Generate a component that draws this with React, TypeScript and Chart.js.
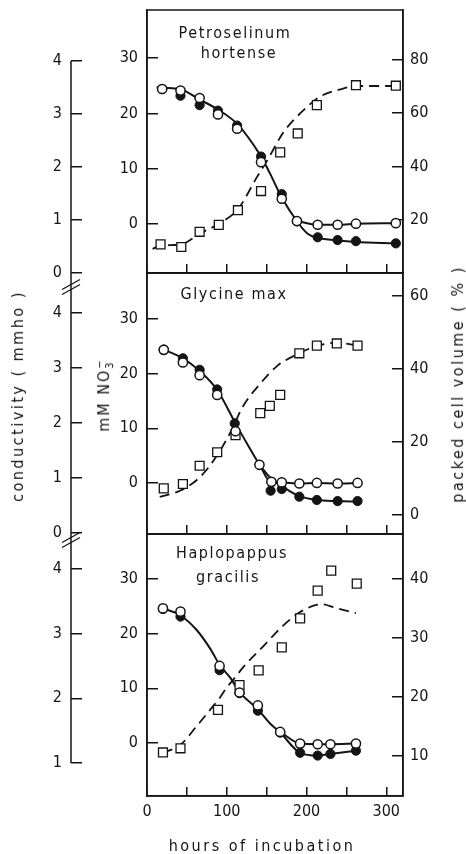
import React, { useEffect, useRef } from 'react';
import { Chart, registerables } from 'chart.js';

Chart.register(...registerables);

const INK = '#141414';
const FONT = '"DejaVu Sans Condensed", "DejaVu Sans", sans-serif';

// ---------------- data ----------------
// x axis: hours of incubation
const xTickLabelValues = [0, 100, 200, 300];

// Panel 1: Petroselinum hortense
const p1Hours = [19, 42, 66, 89, 113, 143, 169, 188, 214, 239, 262, 312];
const p1Nitrate = [24.4, 23.2, 21.5, 20.5, 17.8, 12.2, 5.4, 0.5, -2.4, -2.9, -3.1, -3.5];
const p1Conductivity = [3.47, 3.44, 3.3, 2.99, 2.72, 2.09, 1.4, 0.98, 0.91, 0.91, 0.93, 0.94];
const p1PcvHours = [17, 43, 66, 90, 114, 143, 167, 189, 213, 262, 312];
const p1Pcv = [10.8, 9.8, 15.5, 18.1, 23.6, 30.8, 45.3, 52.4, 63.0, 70.5, 70.3];
const p1NitrateCurveHours = [12, 41, 66, 89, 113, 143, 154, 169, 188, 201, 214, 240, 262, 312];
const p1NitrateCurve = [24.7, 24.4, 22.5, 20.7, 18.1, 12.2, 9.2, 4.8, 0.5, -1.7, -2.5, -3.0, -3.25, -3.5];
const p1CondCurveHours = [188, 214, 240, 262, 312];
const p1CondCurve = [0.98, 0.91, 0.91, 0.93, 0.94];
const p1PcvCurveHours = [7, 17, 43, 66, 90, 114, 138, 151, 171, 192, 217, 242, 263, 313];
const p1PcvCurve = [9.1, 10.3, 10.8, 14.8, 18.5, 24.0, 36.1, 42.4, 52.8, 59.9, 66.2, 68.9, 70.2, 70.2];

// Panel 2: Glycine max
const p2CondHours = [21, 45, 66, 88, 111, 141, 156, 169, 191, 213, 239, 264];
const p2Conductivity = [3.33, 3.1, 2.87, 2.51, 1.85, 1.24, 0.93, 0.92, 0.9, 0.91, 0.9, 0.91];
const p2NitrateHours = [21, 45, 66, 88, 110, 155, 169, 191, 213, 239, 264];
const p2Nitrate = [24.4, 22.8, 20.7, 17.1, 10.9, -1.4, -1.1, -2.5, -3.1, -3.3, -3.3];
const p2PcvHours = [21, 45, 66, 88, 111, 142, 154, 167, 191, 213, 238, 264];
const p2Pcv = [7.3, 8.5, 13.5, 17.2, 21.9, 27.9, 29.9, 32.9, 44.3, 46.4, 47.0, 46.4];
const p2NitrateCurveHours = [19, 45, 66, 88, 111, 125, 141, 155, 169, 191, 213, 239, 264];
const p2NitrateCurve = [24.5, 22.8, 20.5, 17.0, 10.9, 7.3, 3.4, 0.9, -0.55, -2.4, -3.1, -3.3, -3.4];
const p2CondCurveHours = [141, 155, 169, 191, 213, 239, 264];
const p2CondCurve = [1.24, 0.93, 0.92, 0.9, 0.91, 0.9, 0.91];
const p2PcvCurveHours = [16, 42, 67, 88, 104, 121, 142, 163, 188, 213, 238, 264];
const p2PcvCurve = [5.0, 6.7, 10.5, 16.4, 22.4, 30.0, 36.0, 40.8, 44.0, 46.3, 47.2, 46.4];

// Panel 3: Haplopappus gracilis
const p3Hours = [20, 42, 91, 116, 139, 167, 192, 214, 230, 262];
const p3Nitrate = [24.5, 23.1, 13.3, 9.1, 5.9, 1.9, -1.8, -2.3, -2.0, -1.4];
const p3Conductivity = [3.39, 3.34, 2.5, 2.09, 1.89, 1.48, 1.3, 1.29, 1.29, 1.3];
const p3PcvHours = [20, 42, 89, 116, 140, 169, 192, 214, 231, 263];
const p3Pcv = [10.6, 11.3, 17.8, 22.0, 24.5, 28.4, 33.3, 38.0, 41.4, 39.2];
const p3NitrateCurveHours = [20, 41, 62, 79, 91, 105, 116, 138, 154, 167, 192, 214, 230, 262];
const p3NitrateCurve = [24.6, 23.4, 20.7, 17.3, 14.3, 11.8, 9.3, 6.3, 3.6, 1.9, -1.8, -2.3, -2.0, -1.4];
const p3CondCurveHours = [167, 192, 214, 230, 262];
const p3CondCurve = [1.48, 1.3, 1.29, 1.29, 1.3];
const p3PcvCurveHours = [20, 42, 62, 79, 92, 100, 108, 123, 146, 170, 190, 210, 220, 236, 262];
const p3PcvCurve = [10.5, 11.9, 15.0, 17.8, 20.0, 21.6, 22.9, 25.4, 28.6, 32.0, 34.2, 35.5, 35.7, 35.1, 34.2];

// ---------------- helpers ----------------
const pts = (xs: number[], ys: number[]) => xs.map((x, i) => ({ x, y: ys[i] }));

type Series = {
  condHours: number[]; cond: number[];
  nitrateHours: number[]; nitrate: number[];
  pcvHours: number[]; pcv: number[];
  nitrateCurveHours: number[]; nitrateCurve: number[];
  condCurveHours: number[]; condCurve: number[];
  pcvCurveHours: number[]; pcvCurve: number[];
};

type PanelSpec = {
  key: string;
  canvasTop: number;
  canvasHeight: number;
  xAxisHeight: number;
  showXLabels: boolean;
  nitrateRange: [number, number];
  condRange: [number, number];
  pcvRange: [number, number];
  pcvStep: number;
  condLineFrom?: number;
  condLineTo?: number;
  breakOffset?: number;
  series: Series;
};

const panels: PanelSpec[] = [
  {
    key: 'petroselinum',
    canvasTop: 0, canvasHeight: 283, xAxisHeight: 10, showXLabels: false,
    nitrateRange: [-8.86, 38.7], condRange: [0, 4.96], pcvRange: [0.05, 98.7], pcvStep: 20,
    condLineFrom: 4,
    series: {
      condHours: p1Hours, cond: p1Conductivity,
      nitrateHours: p1Hours, nitrate: p1Nitrate,
      pcvHours: p1PcvHours, pcv: p1Pcv,
      nitrateCurveHours: p1NitrateCurveHours, nitrateCurve: p1NitrateCurve,
      condCurveHours: p1CondCurveHours, condCurve: p1CondCurve,
      pcvCurveHours: p1PcvCurveHours, pcvCurve: p1PcvCurve,
    },
  },
  {
    key: 'glycine',
    canvasTop: 263, canvasHeight: 281, xAxisHeight: 10, showXLabels: false,
    nitrateRange: [-9.32, 38.39], condRange: [-0.018, 4.727], pcvRange: [-5.2, 66.3], pcvStep: 20,
    breakOffset: 14,
    series: {
      condHours: p2CondHours, cond: p2Conductivity,
      nitrateHours: p2NitrateHours, nitrate: p2Nitrate,
      pcvHours: p2PcvHours, pcv: p2Pcv,
      nitrateCurveHours: p2NitrateCurveHours, nitrateCurve: p2NitrateCurve,
      condCurveHours: p2CondCurveHours, condCurve: p2CondCurve,
      pcvCurveHours: p2PcvCurveHours, pcvCurve: p2PcvCurve,
    },
  },
  {
    key: 'haplopappus',
    canvasTop: 524, canvasHeight: 330, xAxisHeight: 58, showXLabels: true,
    nitrateRange: [-9.69, 38.2], condRange: [0.49, 4.54], pcvRange: [3.22, 47.6], pcvStep: 10,
    condLineTo: 1,
    breakOffset: 6,
    series: {
      condHours: p3Hours, cond: p3Conductivity,
      nitrateHours: p3Hours, nitrate: p3Nitrate,
      pcvHours: p3PcvHours, pcv: p3Pcv,
      nitrateCurveHours: p3NitrateCurveHours, nitrateCurve: p3NitrateCurve,
      condCurveHours: p3CondCurveHours, condCurve: p3CondCurve,
      pcvCurveHours: p3PcvCurveHours, pcvCurve: p3PcvCurve,
    },
  },
];

const panelDecor = {
  id: 'panelDecor',
  afterDraw(chart: any, _args: any, opts: any) {
    const { ctx, chartArea } = chart;
    const cond = chart.scales.cond;
    ctx.save();
    ctx.strokeStyle = INK;
    ctx.lineWidth = 1.5;
    ctx.strokeRect(chartArea.left, chartArea.top, chartArea.right - chartArea.left, chartArea.bottom - chartArea.top);
    // conductivity axis line
    const x = Math.round(cond.right);
    const y0 = opts.condLineFrom != null ? cond.getPixelForValue(opts.condLineFrom) : chartArea.top;
    const y1 = opts.condLineTo != null ? cond.getPixelForValue(opts.condLineTo) : chartArea.bottom;
    ctx.beginPath();
    ctx.moveTo(x, y0);
    ctx.lineTo(x, y1);
    ctx.stroke();
    // axis break marks
    if (opts.breakOffset != null) {
      const yc = chartArea.top + opts.breakOffset;
      ctx.lineWidth = 1.3;
      for (const dy of [-2.5, 2.5]) {
        ctx.beginPath();
        ctx.moveTo(x - 9, yc + dy + 5);
        ctx.lineTo(x + 9, yc + dy - 5);
        ctx.stroke();
      }
    }
    ctx.restore();
  },
};

const tickFont = { family: FONT, size: 16 };

const noPad = (sc: any) => {
  sc.paddingTop = 0;
  sc.paddingBottom = 0;
  sc.paddingLeft = 0;
  sc.paddingRight = 0;
};

function buildConfig(p: PanelSpec): any {
  const s = p.series;
  const marker = { showLine: false, borderWidth: 0 };
  const curve = { showLine: true, pointRadius: 0, borderColor: INK, cubicInterpolationMode: 'monotone', fill: false };
  return {
    type: 'scatter',
    data: {
      datasets: [
        { ...marker, label: 'conductivity', data: pts(s.condHours, s.cond), yAxisID: 'cond', pointStyle: 'circle', pointRadius: 4.6, pointBackgroundColor: '#ffffff', pointBorderColor: INK, pointBorderWidth: 1.5 },
        { ...marker, label: 'NO3', data: pts(s.nitrateHours, s.nitrate), yAxisID: 'mm', pointStyle: 'circle', pointRadius: 4.6, pointBackgroundColor: INK, pointBorderColor: INK, pointBorderWidth: 1 },
        { ...marker, label: 'packed cell volume', data: pts(s.pcvHours, s.pcv), yAxisID: 'pcv', pointStyle: 'rect', pointRadius: 6.3, pointBackgroundColor: '#ffffff', pointBorderColor: INK, pointBorderWidth: 1.3 },
        { ...curve, label: 'NO3 curve', data: pts(s.nitrateCurveHours, s.nitrateCurve), yAxisID: 'mm', borderWidth: 2 },
        { ...curve, label: 'conductivity curve', data: pts(s.condCurveHours, s.condCurve), yAxisID: 'cond', borderWidth: 2 },
        { ...curve, label: 'pcv curve', data: pts(s.pcvCurveHours, s.pcvCurve), yAxisID: 'pcv', borderWidth: 1.8, borderDash: [10, 6] },
      ],
    },
    options: {
      responsive: false,
      animation: false,
      events: [],
      layout: { padding: { top: 10, left: 0, right: 0, bottom: 0 } },
      plugins: {
        legend: { display: false },
        tooltip: { enabled: false },
        panelDecor: { condLineFrom: p.condLineFrom, condLineTo: p.condLineTo, breakOffset: p.breakOffset },
      },
      scales: {
        x: {
          type: 'linear', position: 'bottom', min: 0, max: 321,
          ticks: {
            stepSize: 50, includeBounds: false, autoSkip: false, maxRotation: 0, padding: 15, color: INK, font: tickFont,
            callback: (v: number) => (p.showXLabels && xTickLabelValues.includes(v) ? String(v) : ''),
          },
          grid: { drawOnChartArea: false, color: INK, lineWidth: 1.5, tickLength: -9 },
          border: { display: true, color: INK, width: 1.5 },
          afterFit: (sc: any) => { sc.height = p.xAxisHeight; noPad(sc); },
        },
        cond: {
          type: 'linear', position: 'left', weight: 1, min: p.condRange[0], max: p.condRange[1],
          ticks: { stepSize: 1, includeBounds: false, autoSkip: false, padding: 20, color: INK, font: tickFont, callback: (v: number) => String(v) },
          grid: { drawOnChartArea: false, color: INK, lineWidth: 1.5, tickLength: -11 },
          border: { display: false },
          afterFit: (sc: any) => { sc.width = 71; noPad(sc); },
        },
        mm: {
          type: 'linear', position: 'left', weight: 0, min: p.nitrateRange[0], max: p.nitrateRange[1],
          ticks: { stepSize: 10, includeBounds: false, autoSkip: false, padding: 20, color: INK, font: tickFont, callback: (v: number) => String(v) },
          grid: { drawOnChartArea: false, color: INK, lineWidth: 1.5, tickLength: -11 },
          border: { display: true, color: INK, width: 1.5 },
          afterFit: (sc: any) => { sc.width = 76; noPad(sc); },
        },
        pcv: {
          type: 'linear', position: 'right', min: p.pcvRange[0], max: p.pcvRange[1],
          ticks: { stepSize: p.pcvStep, includeBounds: false, autoSkip: false, padding: 18, color: INK, font: tickFont, callback: (v: number) => String(v) },
          grid: { drawOnChartArea: false, color: INK, lineWidth: 1.5, tickLength: -11 },
          border: { display: true, color: INK, width: 1.5 },
          afterFit: (sc: any) => { sc.width = 63; noPad(sc); },
        },
      },
    },
    plugins: [panelDecor],
  };
}

function PanelChart({ spec }: { spec: PanelSpec }) {
  const ref = useRef<HTMLCanvasElement | null>(null);
  useEffect(() => {
    if (!ref.current) return;
    const chart = new Chart(ref.current, buildConfig(spec));
    return () => chart.destroy();
  }, [spec]);
  return (
    <canvas
      ref={ref}
      width={466}
      height={spec.canvasHeight}
      style={{ position: 'absolute', left: 0, top: spec.canvasTop, width: 466, height: spec.canvasHeight }}
    />
  );
}

const textBase: React.CSSProperties = {
  position: 'absolute',
  whiteSpace: 'nowrap',
  fontFamily: FONT,
  fontSize: 16,
  lineHeight: 1,
  color: INK,
};

function Label({ text, cx, cy, spacing = 1.5, rotate = false, size = 16 }: { text: React.ReactNode; cx: number; cy: number; spacing?: number; rotate?: boolean; size?: number }) {
  return (
    <div
      style={{
        ...textBase,
        fontSize: size,
        left: cx,
        top: cy,
        letterSpacing: `${spacing}px`,
        transform: rotate ? 'translate(-50%, -50%) rotate(-90deg)' : 'translate(-50%, -50%)',
      }}
    >
      {text}
    </div>
  );
}

export default function App() {
  return (
    <div style={{ position: 'absolute', left: 0, top: 0, width: 466, height: 854, background: '#ffffff', overflow: 'hidden' }}>
      {panels.map((p) => (
        <PanelChart key={p.key} spec={p} />
      ))}
      <Label text="Petroselinum" cx={235} cy={33} spacing={1.6} />
      <Label text="hortense" cx={239} cy={53} spacing={1.6} />
      <Label text="Glycine max" cx={234} cy={294} spacing={1.6} />
      <Label text="Haplopappus" cx={232} cy={553} spacing={1.6} />
      <Label text="gracilis" cx={228} cy={577} spacing={1.6} />
      <Label text="conductivity ( mmho )" cx={18} cy={396} spacing={2.5} rotate />
      <Label
        text={
          <span>
            mM NO
            <span style={{ display: 'inline-flex', flexDirection: 'column', fontSize: 11, lineHeight: 0.9, verticalAlign: 'middle', letterSpacing: 0 }}>
              <span>−</span>
              <span>3</span>
            </span>
          </span>
        }
        cx={105}
        cy={396}
        spacing={2}
        rotate
      />
      <Label text="packed cell volume ( % )" cx={458} cy={384} spacing={2.5} rotate />
      <Label text="hours of incubation" cx={262} cy={846} spacing={2.5} />
    </div>
  );
}
